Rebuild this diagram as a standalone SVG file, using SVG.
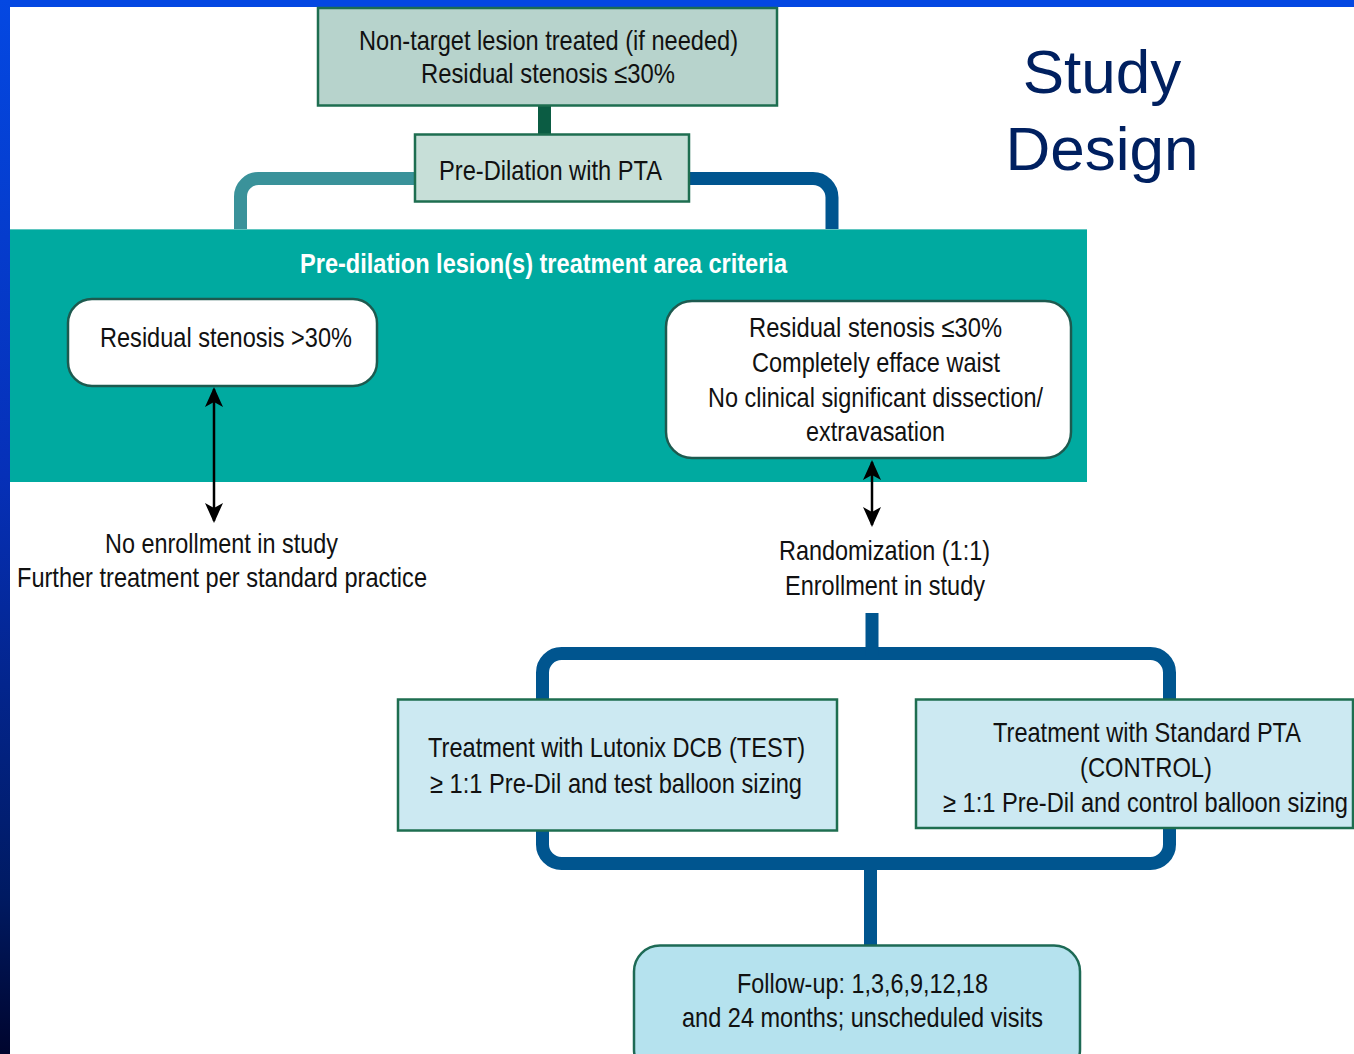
<svg xmlns="http://www.w3.org/2000/svg" width="1354" height="1054" viewBox="0 0 1354 1054">
<defs>
<linearGradient id="lb" x1="0" y1="0" x2="0" y2="1">
<stop offset="0" stop-color="#0448E2"/>
<stop offset="0.45" stop-color="#0630B8"/>
<stop offset="0.85" stop-color="#001A62"/>
<stop offset="1" stop-color="#00052E"/>
</linearGradient>
<marker id="ah" viewBox="0 0 20 18" refX="18" refY="9" markerWidth="20" markerHeight="18" markerUnits="userSpaceOnUse" orient="auto-start-reverse">
<path d="M0,0 L20,9 L0,18 L5,9 Z" fill="#000"/>
</marker>
<style>
.t{font-family:"Liberation Sans Narrow","Liberation Sans",Arial,sans-serif;font-size:28px;fill:#111;}
.h{font-family:"Liberation Sans Narrow","Liberation Sans",Arial,sans-serif;font-size:28px;font-weight:bold;fill:#fff;}
.title{font-family:"Liberation Sans",Arial,sans-serif;font-size:62px;fill:#002060;text-anchor:middle;}
.sq{stroke:#1E6E50;stroke-width:2.5;}
.rd{fill:#fff;stroke:#1D5A4F;stroke-width:2.5;}
.bl{fill:none;stroke:#00558F;stroke-width:13;}
.ar{stroke:#000;stroke-width:2.5;fill:none;marker-start:url(#ah);marker-end:url(#ah);}
</style>
</defs>
<rect x="0" y="0" width="1354" height="1054" fill="#fff"/>
<rect x="0" y="0" width="1354" height="7" fill="#0448E2"/>
<rect x="0" y="0" width="10" height="1054" fill="url(#lb)"/>

<g id="connectors">
<rect x="538" y="100" width="13" height="40" fill="#0B5C43"/>
<path d="M420,178.5 H259 A18,18 0 0 0 240.5,196.5 V232" fill="none" stroke="#3A929A" stroke-width="13"/>
<path d="M684,178.5 H813 A19,19 0 0 1 832,197.5 V232" class="bl"/>
<rect x="542.5" y="653.5" width="627" height="210" rx="19" class="bl"/>
<line x1="872" y1="613" x2="872" y2="656" class="bl"/>
<line x1="870.5" y1="862" x2="870.5" y2="950" class="bl"/>
</g>

<g id="panel">
<rect x="10" y="229" width="1077" height="253" fill="#00AAA0"/>
<line x1="10" y1="229.5" x2="1087" y2="229.5" stroke="#5FC6C0" stroke-width="1"/>
<text class="h" x="300" y="273" textLength="487" lengthAdjust="spacingAndGlyphs">Pre-dilation lesion(s) treatment area criteria</text>
</g>

<g id="arrows">
<line x1="214" y1="389" x2="214" y2="521" class="ar"/>
<line x1="872" y1="462" x2="872" y2="525" class="ar"/>
</g>

<g id="n-nontarget">
<rect x="318" y="8" width="459" height="97.5" fill="#B7D3CC" class="sq"/>
<text class="t" x="359" y="50" textLength="379" lengthAdjust="spacingAndGlyphs">Non-target lesion treated (if needed)</text>
<text class="t" x="421" y="83" textLength="254" lengthAdjust="spacingAndGlyphs">Residual stenosis ≤30%</text>
</g>

<g id="n-predil">
<rect x="415" y="134.5" width="274" height="67" fill="#C7DFD8" class="sq"/>
<text class="t" x="439" y="180" textLength="223" lengthAdjust="spacingAndGlyphs">Pre-Dilation with PTA</text>
</g>

<g id="n-res-gt30">
<rect x="68" y="299" width="309" height="87" rx="24" class="rd"/>
<text class="t" x="100" y="347" textLength="252" lengthAdjust="spacingAndGlyphs">Residual stenosis &gt;30%</text>
</g>

<g id="n-res-le30">
<rect x="666" y="301" width="405" height="157" rx="26" class="rd"/>
<text class="t" x="749" y="337" textLength="253" lengthAdjust="spacingAndGlyphs">Residual stenosis ≤30%</text>
<text class="t" x="752" y="372" textLength="248" lengthAdjust="spacingAndGlyphs">Completely efface waist</text>
<text class="t" x="708" y="407" textLength="335" lengthAdjust="spacingAndGlyphs">No clinical significant dissection/</text>
<text class="t" x="806" y="441" textLength="139" lengthAdjust="spacingAndGlyphs">extravasation</text>
</g>

<g id="n-noenroll">
<text class="t" x="105" y="553" textLength="233" lengthAdjust="spacingAndGlyphs">No enrollment in study</text>
<text class="t" x="17" y="587" textLength="410" lengthAdjust="spacingAndGlyphs">Further treatment per standard practice</text>
</g>

<g id="n-random">
<text class="t" x="779" y="560" textLength="211" lengthAdjust="spacingAndGlyphs">Randomization (1:1)</text>
<text class="t" x="785" y="595" textLength="200" lengthAdjust="spacingAndGlyphs">Enrollment in study</text>
</g>

<g id="n-test">
<rect x="398" y="699.5" width="439" height="131" fill="#CCE9F2" class="sq"/>
<text class="t" x="428" y="757" textLength="377" lengthAdjust="spacingAndGlyphs">Treatment with Lutonix DCB (TEST)</text>
<text class="t" x="430" y="793" textLength="372" lengthAdjust="spacingAndGlyphs">≥ 1:1 Pre-Dil and test balloon sizing</text>
</g>

<g id="n-control">
<rect x="916" y="699.5" width="437" height="128.5" fill="#CCE9F2" class="sq"/>
<text class="t" x="993" y="742" textLength="308" lengthAdjust="spacingAndGlyphs">Treatment with Standard PTA</text>
<text class="t" x="1080" y="777" textLength="132" lengthAdjust="spacingAndGlyphs">(CONTROL)</text>
<text class="t" x="943" y="812" textLength="405" lengthAdjust="spacingAndGlyphs">≥ 1:1 Pre-Dil and control balloon sizing</text>
</g>

<g id="n-followup">
<rect x="634" y="945.5" width="446" height="130" rx="26" fill="#B5E2EE" stroke="#1D6A55" stroke-width="2.5"/>
<text class="t" x="737" y="993" textLength="251" lengthAdjust="spacingAndGlyphs">Follow-up: 1,3,6,9,12,18</text>
<text class="t" x="682" y="1027" textLength="361" lengthAdjust="spacingAndGlyphs">and 24 months; unscheduled visits</text>
</g>

<g id="title">
<text class="title" x="1102" y="93">Study</text>
<text class="title" x="1102" y="170">Design</text>
</g>
</svg>
